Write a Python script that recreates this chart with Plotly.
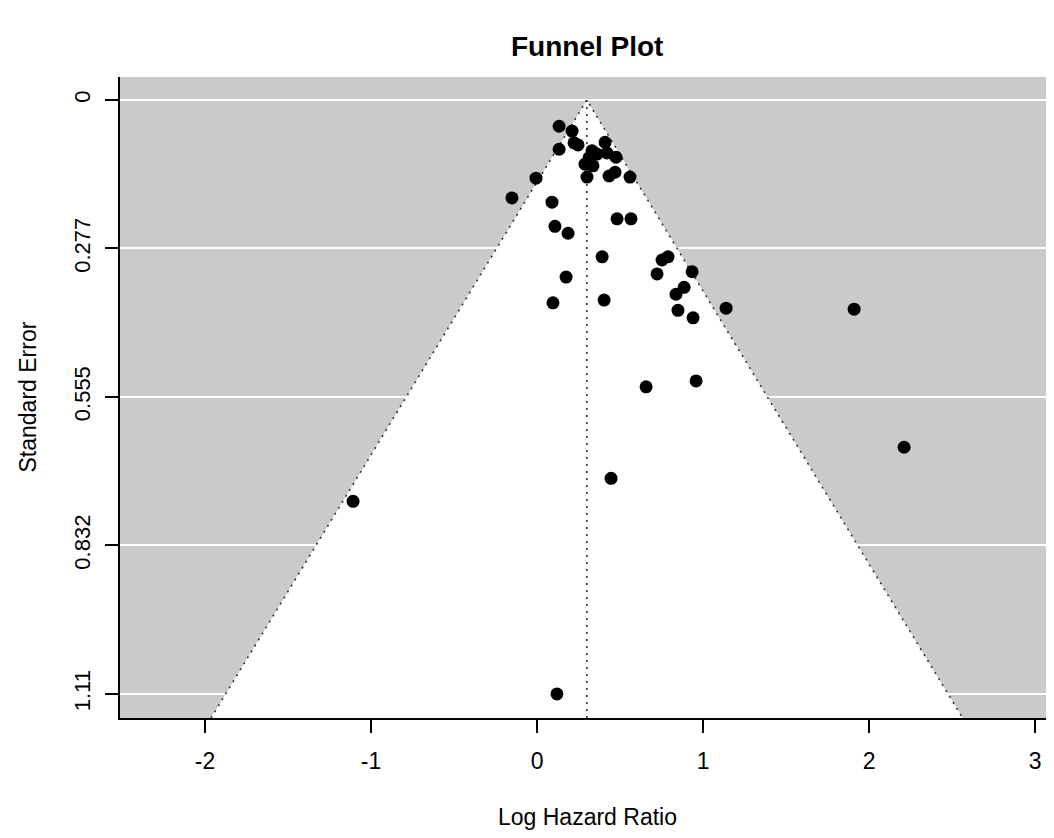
import plotly.graph_objects as go

# ---- data ----
log_hr = [0.133, 0.211, 0.133, 0.223, 0.247, 0.410, 0.331, 0.361, 0.422, 0.476,
          0.313, 0.289, 0.337, 0.301, 0.434, 0.470, 0.560, -0.006, -0.151, 0.090,
          0.482, 0.566, 0.108, 0.187, 0.392, 0.753, 0.789, 0.723, 0.934, 0.886,
          0.837, 0.175, 0.096, 0.404, 0.849, 0.940, 1.139, 1.910, 0.657, 0.958,
          2.211, 0.446, -1.108, 0.120]
std_err = [0.049, 0.058, 0.092, 0.080, 0.084, 0.079, 0.095, 0.101, 0.099, 0.107,
           0.108, 0.120, 0.123, 0.144, 0.142, 0.135, 0.144, 0.146, 0.183, 0.191,
           0.222, 0.222, 0.236, 0.249, 0.293, 0.299, 0.293, 0.325, 0.321, 0.350,
           0.363, 0.331, 0.379, 0.374, 0.393, 0.407, 0.389, 0.391, 0.536, 0.525,
           0.649, 0.707, 0.750, 1.110]
estimate = 0.30
se_tick_vals = [0, 0.2775, 0.555, 0.8325, 1.11]
se_tick_text = ["0", "0.277", "0.555", "0.832", "1.11"]
x_tick_vals = [-2, -1, 0, 1, 2, 3]
z_crit = 1.96
y_lims = [1.155, -0.043]
x_lims = [-2.512, 3.114]

y_bottom = y_lims[0]
funnel_x = [estimate - z_crit * y_bottom, estimate, estimate + z_crit * y_bottom]
funnel_y = [y_bottom, 0, y_bottom]

fig = go.Figure()

fig.add_trace(go.Scatter(
    x=funnel_x, y=funnel_y, mode="lines", fill="toself",
    fillcolor="white", line=dict(width=0, color="white"),
    hoverinfo="skip", showlegend=False))

fig.add_trace(go.Scatter(
    x=funnel_x, y=funnel_y, mode="lines",
    line=dict(color="#333333", width=1.6, dash="2px,5px"),
    hoverinfo="skip", showlegend=False))

fig.add_trace(go.Scatter(
    x=[estimate, estimate], y=[0, y_bottom], mode="lines",
    line=dict(color="#333333", width=1.6, dash="2px,5px"),
    hoverinfo="skip", showlegend=False))

fig.add_trace(go.Scatter(
    x=log_hr, y=std_err, mode="markers",
    marker=dict(color="black", size=13, line=dict(width=0)),
    showlegend=False))

font_family = "Liberation Sans, Arial, Helvetica, sans-serif"

fig.update_layout(
    width=1046, height=830,
    margin=dict(l=112, r=0, t=69, b=120),
    paper_bgcolor="white",
    plot_bgcolor="#CACACA",
    font=dict(family=font_family, color="black", size=22),
    xaxis=dict(
        range=x_lims, tickvals=x_tick_vals, ticktext=[str(v) for v in x_tick_vals],
        showgrid=False, zeroline=False,
        showline=True, linecolor="black", linewidth=1.5,
        ticks="outside", ticklen=13, tickwidth=1.5, tickcolor="black",
        ticklabelstandoff=9,
        tickfont=dict(size=23),
    ),
    yaxis=dict(
        range=y_lims, tickvals=se_tick_vals, ticktext=se_tick_text,
        showgrid=True, gridcolor="white", gridwidth=2, zeroline=False,
        showline=True, linecolor="black", linewidth=1.5,
        ticks="outside", ticklen=13, tickwidth=1.5, tickcolor="black",
        tickangle=-90, ticklabelstandoff=6,
        tickfont=dict(size=22),
    ),
    annotations=[
        dict(text="<b>Funnel Plot</b>", xref="paper", yref="paper",
             x=0.5, y=1 + (77 - 47) / 641, xanchor="center", yanchor="middle",
             showarrow=False, font=dict(size=28, family=font_family)),
        dict(text="Log Hazard Ratio", xref="paper", yref="paper",
             x=0.5, y=-(817 - 718) / 641, xanchor="center", yanchor="middle",
             showarrow=False, font=dict(size=23, family=font_family)),
        dict(text="Standard Error", xref="paper", yref="paper",
             x=(27 - 120) / 934, y=0.5, xanchor="center", yanchor="middle",
             textangle=-90, showarrow=False, font=dict(size=23, family=font_family)),
    ],
)

fig.write_html("out.html")
